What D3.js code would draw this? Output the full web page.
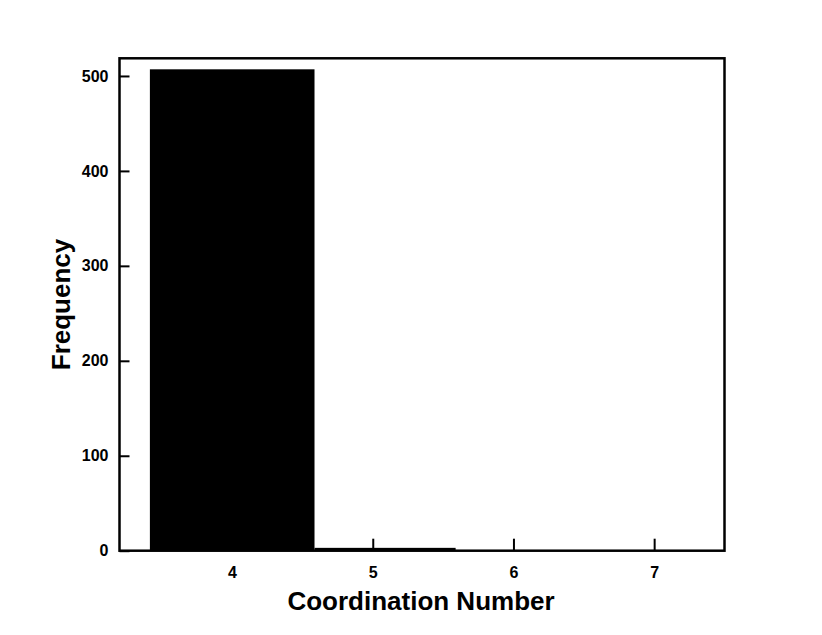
<!DOCTYPE html>
<html><head><meta charset="utf-8">
<script src="https://cdn.jsdelivr.net/npm/d3@7"></script>
<style>body{margin:0;background:#fff}</style>
</head><body>
<script>
const binStarts = [3.416, 4.586];
const binEnds = [4.586, 5.589];
const frequencies = [507, 3];
const xTicks = [4, 5, 6, 7];
const yTicks = [0, 100, 200, 300, 400, 500];

const W = 822, H = 635;
const m = {left: 119.5, right: 724.5, top: 58.3, bottom: 550.7};
const svg = d3.select("body").append("svg").attr("width", W).attr("height", H);
const x = d3.scaleLinear().domain([3.2, 7.5]).range([m.left, m.right]);
const y = d3.scaleLinear().domain([0, 518.6]).range([m.bottom, m.top]);

const data = binStarts.map((s, i) => ({s, e: binEnds[i], v: frequencies[i]}));
svg.append("g").selectAll("rect").data(data).join("rect")
  .attr("x", d => x(d.s)).attr("width", d => x(d.e) - x(d.s))
  .attr("y", d => y(d.v)).attr("height", d => y(0) - y(d.v))
  .attr("fill", "#000");

const font = "'Liberation Sans', Arial, sans-serif";
const xa = svg.append("g").attr("transform", `translate(0,${m.bottom})`)
  .call(d3.axisBottom(x).tickValues(xTicks).tickSizeInner(-12).tickSizeOuter(0).tickPadding(16).tickFormat(d3.format("d")));
const ya = svg.append("g").attr("transform", `translate(${m.left},0)`)
  .call(d3.axisLeft(y).tickValues(yTicks).tickSizeInner(-10).tickSizeOuter(0).tickPadding(11).tickFormat(d3.format("d")));
[xa, ya].forEach(a => {
  a.attr("font-size", null).attr("font-family", null);
  a.select(".domain").remove();
  a.selectAll(".tick line").attr("stroke", "#000").attr("stroke-width", 2);
  a.selectAll(".tick text").style("font-family", font).style("font-weight", "bold").style("font-size", "16px").attr("fill", "#000");
});

svg.append("rect").attr("x", m.left).attr("y", m.top)
  .attr("width", m.right - m.left).attr("height", m.bottom - m.top)
  .attr("fill", "none").attr("stroke", "#000").attr("stroke-width", 2.5);

svg.append("text").attr("x", 421).attr("y", 610)
  .attr("text-anchor", "middle").style("font-family", font).style("font-weight", "bold").style("font-size", "26px")
  .text("Coordination Number");
svg.append("text").attr("transform", `translate(70,${(m.top + m.bottom) / 2}) rotate(-90)`)
  .attr("text-anchor", "middle").style("font-family", font).style("font-weight", "bold").style("font-size", "26px")
  .text("Frequency");
</script>
</body></html>
